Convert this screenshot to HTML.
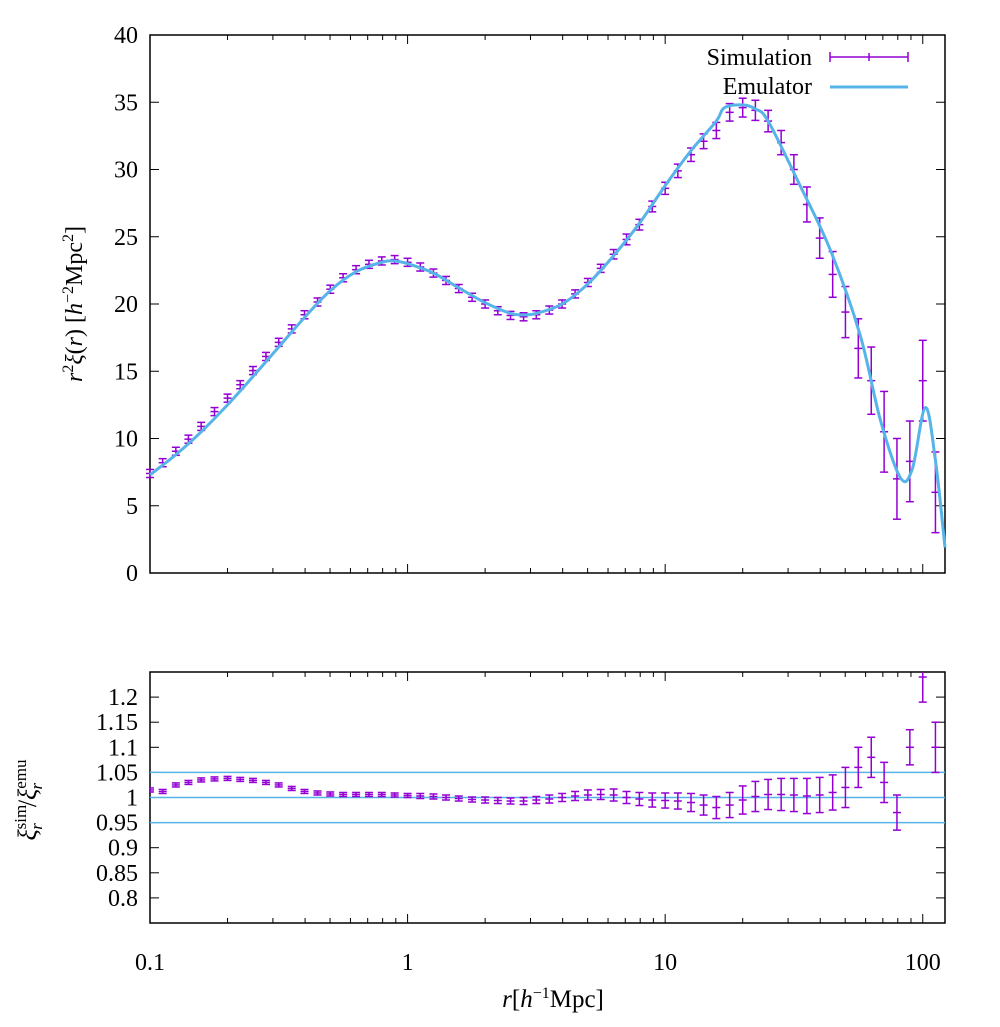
<!DOCTYPE html>
<html><head><meta charset="utf-8"><style>
body{margin:0;background:#fff}
svg text{font-family:"Liberation Serif","DejaVu Serif",serif;fill:#000}
</style></head><body>
<svg id="c" width="1000" height="1022" viewBox="0 0 1000 1022" xmlns="http://www.w3.org/2000/svg"></svg>
<script>
const emuR=[0.1,0.126,0.158,0.2,0.251,0.316,0.398,0.501,0.631,0.794,0.891,1,1.26,1.58,2,2.51,2.82,3.16,3.98,5.01,6.31,7.94,10,12.6,15.8,17,20,22.4,25.1,33.4,43.8,57.1,68.4,81.8,91,102.3,112,122];
const emuY=[7.3,8.8,10.5,12.5,14.6,16.8,19.0,21.0,22.4,23.1,23.2,23.0,22.3,21.2,20.1,19.3,19.2,19.3,20.0,21.5,23.6,26.0,28.8,31.4,33.6,34.6,34.8,34.5,33.6,28.8,24.0,17.7,11.4,7.1,7.7,12.3,8.4,1.9];
const simR=[0.1,0.112,0.126,0.141,0.158,0.178,0.2,0.224,0.251,0.282,0.316,0.355,0.398,0.447,0.501,0.562,0.631,0.708,0.794,0.891,1,1.12,1.26,1.41,1.58,1.78,2,2.24,2.51,2.82,3.16,3.55,3.98,4.47,5.01,5.62,6.31,7.08,7.94,8.91,10,11.2,12.6,14.1,15.8,17.8,20,22.4,25.1,28.2,31.6,35.5,39.8,44.7,50.1,56.2,63.1,70.8,79.4,89.1,100,112];
const simY=[7.4,8.2,9.05,9.95,10.9,12.0,13.0,14.0,15.05,16.1,17.15,18.15,19.2,20.15,21.1,21.95,22.55,22.95,23.2,23.3,23.1,22.75,22.3,21.75,21.15,20.5,20.0,19.5,19.15,19.05,19.2,19.55,20.0,20.75,21.6,22.65,23.7,24.8,25.9,27.25,28.6,29.9,31.1,32.1,32.9,34.25,34.6,34.4,33.6,32.0,30.0,27.4,24.9,22.2,19.4,16.7,14.3,10.5,7.0,8.3,14.3,6.0];
const simE=[0.3,0.3,0.3,0.3,0.3,0.3,0.3,0.3,0.3,0.3,0.3,0.3,0.3,0.3,0.3,0.3,0.3,0.3,0.3,0.3,0.3,0.3,0.3,0.3,0.3,0.3,0.3,0.3,0.3,0.3,0.3,0.3,0.3,0.3,0.3,0.3,0.35,0.4,0.4,0.4,0.45,0.5,0.5,0.55,0.6,0.65,0.7,0.75,0.8,0.9,1.1,1.3,1.5,1.7,1.9,2.2,2.5,3.0,3.0,3.0,3.0,3.0];
const ratY=[1.015,1.012,1.025,1.03,1.035,1.037,1.038,1.036,1.034,1.03,1.025,1.018,1.012,1.009,1.007,1.006,1.006,1.006,1.006,1.005,1.004,1.003,1.002,1.0,0.998,0.996,0.995,0.994,0.993,0.993,0.995,0.997,1.0,1.003,1.005,1.006,1.005,1.0,0.997,0.995,0.994,0.993,0.99,0.985,0.98,0.985,0.995,1.002,1.006,1.006,1.005,1.003,1.005,1.01,1.02,1.06,1.08,1.03,0.97,1.1,1.24,1.1];
const ratE=[0.004,0.004,0.004,0.004,0.004,0.004,0.004,0.004,0.004,0.004,0.004,0.004,0.004,0.004,0.004,0.004,0.004,0.004,0.004,0.004,0.004,0.005,0.005,0.005,0.005,0.005,0.006,0.006,0.006,0.007,0.007,0.008,0.008,0.009,0.01,0.01,0.012,0.012,0.013,0.014,0.015,0.016,0.018,0.02,0.022,0.025,0.028,0.03,0.03,0.032,0.033,0.035,0.035,0.035,0.04,0.04,0.04,0.04,0.035,0.035,0.05,0.05];
const yTicksTop=[0,5,10,15,20,25,30,35,40];
const yTicksBot=[0.8,0.85,0.9,0.95,1,1.05,1.1,1.15,1.2];
const yTickLabBot=["0.8","0.85","0.9","0.95","1","1.05","1.1","1.15","1.2"];
const refLines=[0.95,1,1.05];
const xTicks=[0.1,1,10,100];
const xTickLab=["0.1","1","10","100"];

const svg=document.getElementById('c');
const NS='http://www.w3.org/2000/svg';
function mk(t,a,p){const e=document.createElementNS(NS,t);for(const k in a)e.setAttribute(k,a[k]);(p||svg).appendChild(e);return e;}
const L=150,R=945,T1=35,B1=573,T2=672,B2=923;
const xMin=Math.log10(0.1),xMax=Math.log10(122);
const X=r=>L+(Math.log10(r)-xMin)/(xMax-xMin)*(R-L);
const Y1=v=>B1-v/40*(B1-T1);
const Y2=v=>B2-(v-0.75)/0.5*(B2-T2);
const PUR='#9400d3',BLU='#56b4e9';

function axes(T,B,Yf,ticks,labs,name){
  const g=mk('g',{});
  
  
  for(let d=-1;d<=2;d++)for(let m=1;m<=9;m++){const v=m*Math.pow(10,d);if(v>122)continue;const x=X(v);const len=m==1?9:5;
    mk('line',{x1:x,y1:B,x2:x,y2:B-len,stroke:'#000','stroke-width':1},g);
    mk('line',{x1:x,y1:T,x2:x,y2:T+len,stroke:'#000','stroke-width':1},g);}
  ticks.forEach((v,i)=>{const y=Yf(v);
    mk('line',{x1:L,y1:y,x2:L+9,y2:y,stroke:'#000'},g);
    mk('line',{x1:R,y1:y,x2:R-9,y2:y,stroke:'#000'},g);
    const t=mk('text',{x:L-12,y:y+8,'text-anchor':'end','font-size':24},g);t.textContent=labs[i];
    
    
  });
  mk('rect',{x:L,y:T,width:R-L,height:B-T,fill:'none',stroke:'#000','stroke-width':1.5},g);
}
axes(T1,B1,Y1,yTicksTop,yTicksTop.map(String),'top-axes');
axes(T2,B2,Y2,yTicksBot,yTickLabBot,'bottom-axes');
xTicks.forEach((v,i)=>{const t=mk('text',{x:X(v),y:970,'text-anchor':'middle','font-size':24});t.textContent=xTickLab[i];
  
  });

function ebar(g,x,y0,y1,yc,w){
  mk('line',{x1:x,y1:y0,x2:x,y2:y1,stroke:PUR,'stroke-width':1.5},g);
  mk('line',{x1:x-w,y1:y0,x2:x+w,y2:y0,stroke:PUR,'stroke-width':1.5},g);
  mk('line',{x1:x-w,y1:y1,x2:x+w,y2:y1,stroke:PUR,'stroke-width':1.5},g);
  mk('line',{x1:x-w,y1:yc,x2:x+w,y2:yc,stroke:PUR,'stroke-width':1.5},g);
}
const gs=mk('g',{});


simR.forEach((r,i)=>ebar(gs,X(r),Y1(simY[i]+simE[i]),Y1(simY[i]-simE[i]),Y1(simY[i]),4));
// smooth emulator line (Catmull-Rom through data points)
const P=emuR.map((r,i)=>[X(r),Y1(emuY[i])]);
let d='M'+P[0][0].toFixed(1)+','+P[0][1].toFixed(1);
for(let i=0;i<P.length-1;i++){const p0=P[Math.max(i-1,0)],p1=P[i],p2=P[i+1],p3=P[Math.min(i+2,P.length-1)];
  const c1=[p1[0]+(p2[0]-p0[0])/6,p1[1]+(p2[1]-p0[1])/6],c2=[p2[0]-(p3[0]-p1[0])/6,p2[1]-(p3[1]-p1[1])/6];
  d+='C'+c1.map(v=>v.toFixed(1)).join(',')+' '+c2.map(v=>v.toFixed(1)).join(',')+' '+p2.map(v=>v.toFixed(1)).join(',');}
const pe=mk('path',{d:d,fill:'none',stroke:BLU,'stroke-width':3,'stroke-linejoin':'round'});


refLines.forEach(v=>{const l=mk('line',{x1:L,x2:R,y1:Y2(v),y2:Y2(v),stroke:BLU,'stroke-width':1.5});
  
  });
const clip=mk('clipPath',{id:'cb'});mk('rect',{x:L,y:T2,width:R-L,height:B2-T2},clip);
const gr=mk('g',{'clip-path':'url(#cb)'});


simR.forEach((r,i)=>ebar(gr,X(r),Y2(ratY[i]+ratE[i]),Y2(ratY[i]-ratE[i]),Y2(ratY[i]),4));
const lg=mk('g',{});


let t=mk('text',{x:812,y:65,'text-anchor':'end','font-size':24},lg);t.textContent='Simulation';
mk('line',{x1:830,x2:908,y1:57,y2:57,stroke:PUR,'stroke-width':1.5},lg);
mk('line',{x1:830,x2:830,y1:52,y2:62,stroke:PUR,'stroke-width':1.5},lg);mk('line',{x1:908,x2:908,y1:52,y2:62,stroke:PUR,'stroke-width':1.5},lg);mk('line',{x1:869,x2:869,y1:53,y2:61,stroke:PUR,'stroke-width':1.5},lg);
t=mk('text',{x:812,y:94,'text-anchor':'end','font-size':24},lg);t.textContent='Emulator';
mk('line',{x1:830,x2:908,y1:87,y2:87,stroke:BLU,'stroke-width':3},lg);
</script>
<svg width="1000" height="1022" style="position:absolute;left:0;top:0">
<text x="82" y="304" transform="rotate(-90 82 304)" text-anchor="middle" font-size="24" style="font-family:'Liberation Serif',serif"><tspan font-style="italic">r</tspan><tspan dy="-9" font-size="16">2</tspan><tspan dy="9" font-style="italic">ξ</tspan>(<tspan font-style="italic">r</tspan>)  [<tspan font-style="italic">h</tspan><tspan dy="-9" font-size="16">−2</tspan><tspan dy="9">Mpc</tspan><tspan dy="-9" font-size="16">2</tspan><tspan dy="9">]</tspan></text>
<text x="36" y="800" transform="rotate(-90 36 800)" text-anchor="middle" font-size="26" style="font-family:'Liberation Serif',serif"><tspan font-style="italic">ξ</tspan><tspan dy="-10" font-size="17">sim</tspan><tspan dy="16" dx="-25" font-size="17" font-style="italic">r</tspan><tspan dy="-6" dx="16">/</tspan><tspan font-style="italic">ξ</tspan><tspan dy="-10" font-size="17">emu</tspan><tspan dy="16" dx="-30" font-size="17" font-style="italic">r</tspan></text>
<text x="553" y="1007" text-anchor="middle" font-size="25" style="font-family:'Liberation Serif',serif"><tspan font-style="italic">r</tspan>[<tspan font-style="italic">h</tspan><tspan dy="-9" font-size="16">−1</tspan><tspan dy="9">Mpc]</tspan></text>
</svg>
</body></html>
